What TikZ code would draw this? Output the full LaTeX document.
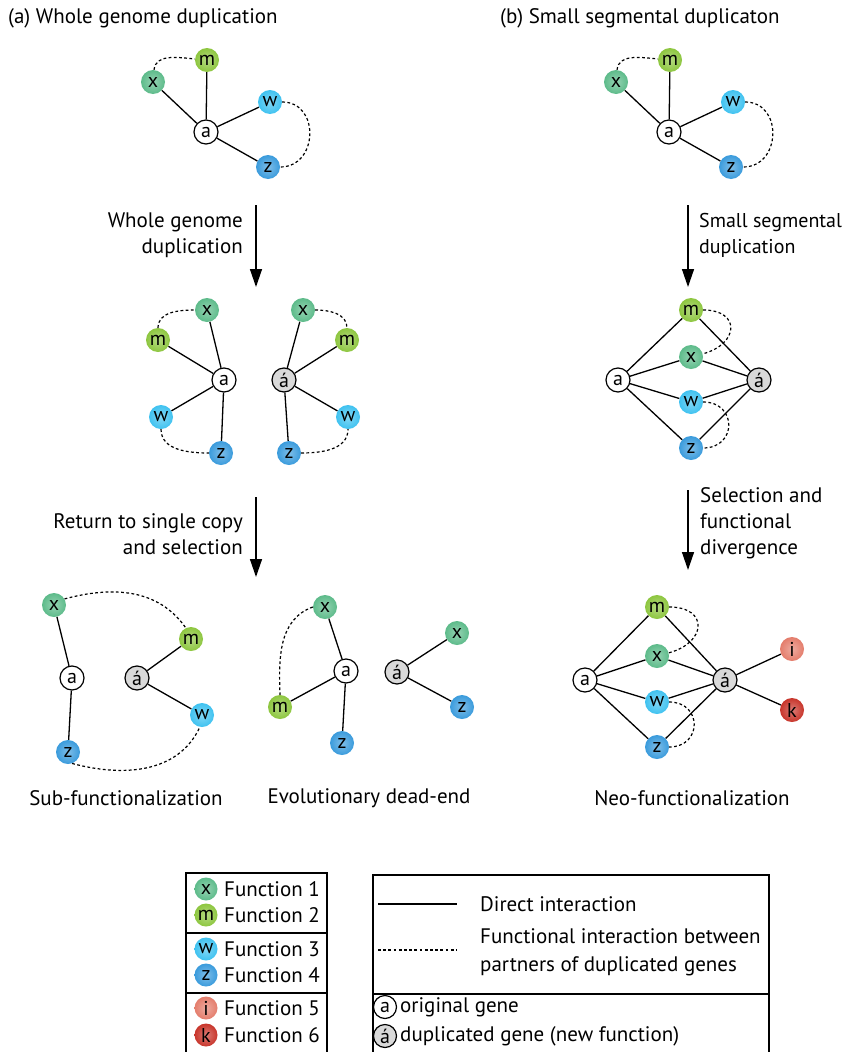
\documentclass[tikz,border=0pt]{standalone}
\usepackage{fontspec}
\setmainfont{PT Sans}
\usetikzlibrary{arrows.meta}
\definecolor{cx}{RGB}{93,187,138}
\definecolor{cm}{RGB}{141,198,63}
\definecolor{cw}{RGB}{63,194,240}
\definecolor{cz}{RGB}{58,155,220}
\definecolor{ci}{RGB}{228,125,108}
\definecolor{ck}{RGB}{200,53,43}
\tikzset{
  gene/.style={circle, minimum size=24pt, inner sep=0pt, font=\fontsize{20}{20}\selectfont},
  orig/.style={gene, draw, line width=1.2pt, fill=white},
  dup/.style={gene, draw, line width=1.2pt, fill=gray!30},
  fn/.style={gene, shading=radial, inner color=#1!65!white, outer color=#1},
  fx/.style={fn=cx}, fm/.style={fn=cm}, fw/.style={fn=cw},
  fz/.style={fn=cz}, fi/.style={fn=ci}, fk/.style={fn=ck},
  link/.style={line width=1.3pt},
  func/.style={line width=1.2pt, dash pattern=on 2.8pt off 2.4pt},
  lbl/.style={inner sep=0pt, font=\fontsize{21}{26}\selectfont},
}
\begin{document}
\begin{tikzpicture}[x=1pt, y=1pt, >={Triangle[length=18pt,width=12pt]}]
    \clip (0,0) rectangle (848,-1052);
    \useasboundingbox (0,0) rectangle (848,-1052);
    % titles
    \node[lbl, anchor=west] (ta) at (8,-18) {(a) Whole genome duplication};
    \node[lbl, anchor=west] (tb) at (500,-18) {(b) Small segmental duplicaton};
    % (a) original network
    \node[orig] (a1) at (206,-132) {a};
    \node[fx] (x1) at (153,-82) {x};
    \node[fm] (m1) at (207,-60) {m};
    \node[fw] (w1) at (270,-102) {w};
    \node[fz] (z1) at (268,-167) {z};
    \draw[link] (a1) -- (x1) (a1) -- (m1) (a1) -- (w1) (a1) -- (z1);
    \draw[func] (x1) to[out=85,in=175] (m1);
    \draw[func] (w1) to[out=0,in=0,looseness=1.5] (z1);
    % (b) original network
    \node[orig] (a2) at (669,-132) {a};
    \node[fx] (x2) at (616,-82) {x};
    \node[fm] (m2) at (670,-60) {m};
    \node[fw] (w2) at (733,-102) {w};
    \node[fz] (z2) at (731,-167) {z};
    \draw[link] (a2) -- (x2) (a2) -- (m2) (a2) -- (w2) (a2) -- (z2);
    \draw[func] (x2) to[out=85,in=175] (m2);
    \draw[func] (w2) to[out=0,in=0,looseness=1.5] (z2);
    % first arrows
    \coordinate (s1) at (256,-205);
    \coordinate (e1) at (256,-287);
    \draw[line width=1.4pt, ->] (s1) -- (e1);
    \node[lbl, anchor=east, align=right] (l1) at (243,-235) {Whole genome\\duplication};
    \coordinate (s2) at (688,-205);
    \coordinate (e2) at (688,-287);
    \draw[line width=1.4pt, ->] (s2) -- (e2);
    \node[lbl, anchor=west, align=left, font=\fontsize{20}{26}\selectfont] (l2) at (699,-235) {Small segmental\\duplication};
    % whole genome duplicated copies
    \node[orig] (a3) at (224,-380) {a};
    \node[fx] (x3) at (207,-310) {x};
    \node[fm] (m3) at (158,-340) {m};
    \node[fw] (w3) at (161,-417) {w};
    \node[fz] (z3) at (221,-453) {z};
    \draw[link] (a3) -- (x3) (a3) -- (m3) (a3) -- (w3) (a3) -- (z3);
    \draw[func] (m3) to[out=90,in=180] (x3);
    \draw[func] (w3) to[out=-90,in=180] (z3);
    \node[dup] (d3) at (284,-380) {á};
    \node[fx] (x4) at (303,-310) {x};
    \node[fm] (m4) at (347,-340) {m};
    \node[fw] (w4) at (348,-417) {w};
    \node[fz] (z4) at (289,-453) {z};
    \draw[link] (d3) -- (x4) (d3) -- (m4) (d3) -- (w4) (d3) -- (z4);
    \draw[func] (x4) to[out=0,in=90] (m4);
    \draw[func] (z4) to[out=0,in=-90] (w4);
    % segmental duplication
    \node[orig] (a5) at (618,-380) {a};
    \node[dup] (d5) at (759,-380) {á};
    \node[fm] (m5) at (691,-310) {m};
    \node[fx] (x5) at (691,-357) {x};
    \node[fw] (w5) at (691,-402) {w};
    \node[fz] (z5) at (691,-448) {z};
    \foreach \g in {m5,x5,w5,z5} {
      \draw[link] (a5) -- (\g);
      \draw[link] (d5) -- (\g);
    }
    \draw[func] (m5) to[out=0,in=15,looseness=2.2] (x5);
    \draw[func] (w5) to[out=0,in=0,looseness=1.9] (z5);
    % second arrows
    \coordinate (s3) at (256,-497);
    \coordinate (e3) at (256,-577);
    \draw[line width=1.4pt, ->] (s3) -- (e3);
    \node[lbl, anchor=east, align=right] (l3) at (243,-534) {Return to single copy\\and selection};
    \coordinate (s4) at (688,-490);
    \coordinate (e4) at (688,-570);
    \draw[line width=1.4pt, ->] (s4) -- (e4);
    \node[lbl, anchor=west, align=left] (l4) at (700,-523) {Selection and\\functional\\divergence};
    % sub-functionalization
    \node[orig] (a6) at (72,-678) {a};
    \node[fx] (x6) at (54,-605) {x};
    \node[fz] (z6) at (68,-752) {z};
    \node[dup] (d6) at (137,-678) {á};
    \node[fm] (m6) at (191,-639) {m};
    \node[fw] (w6) at (202,-715) {w};
    \draw[link] (a6) -- (x6) (a6) -- (z6) (d6) -- (m6) (d6) -- (w6);
    \draw[func] (x6.30) to[out=15,in=125] (m6.115);
    \draw[func] (z6.-70) to[out=-15,in=-115] (w6.-100);
    % dead-end
    \node[orig] (a7) at (346,-671) {a};
    \node[fx] (x7) at (325,-607) {x};
    \node[fm] (m7) at (280,-707) {m};
    \node[fz] (z7) at (342,-743) {z};
    \draw[link] (a7) -- (x7) (a7) -- (m7) (a7) -- (z7);
    \draw[func] (x7.west) to[out=200,in=92] (m7.north);
    \node[dup] (d7) at (397,-672) {á};
    \node[fx] (x8) at (457,-633) {x};
    \node[fz] (z8) at (462,-707) {z};
    \draw[link] (d7) -- (x8) (d7) -- (z8);
    % neo-functionalization
    \node[orig] (a9) at (585,-680) {a};
    \node[dup] (d9) at (725,-680) {á};
    \node[fm] (m9) at (657,-607) {m};
    \node[fx] (x9) at (657,-656) {x};
    \node[fw] (w9) at (657,-702) {w};
    \node[fz] (z9) at (657,-747) {z};
    \node[fi] (i9) at (792,-649) {i};
    \node[fk] (k9) at (792,-710) {k};
    \foreach \g in {m9,x9,w9,z9} {
      \draw[link] (a9) -- (\g);
      \draw[link] (d9) -- (\g);
    }
    \draw[link] (d9) -- (i9) (d9) -- (k9);
    \draw[func] (m9) to[out=0,in=15,looseness=2.2] (x9);
    \draw[func] (w9) to[out=0,in=0,looseness=1.9] (z9);
    % outcome labels
    \node[lbl] (o1) at (126,-798) {Sub-functionalization};
    \node[lbl] (o2) at (369,-798) {Evolutionary dead-end};
    \node[lbl] (o3) at (692,-798) {Neo-functionalization};
    % legend: functions
    \draw[line width=1.3pt] (186,-1070) |- (327,-873) -- (327,-1070);
    \draw[line width=1.3pt] (186,-933) -- (327,-933) (186,-993) -- (327,-993);
    \foreach \f/\c/\t/\y in {x/fx/1/889, m/fm/2/915, w/fw/3/949, z/fz/4/975, i/fi/5/1008, k/fk/6/1035} {
      \node[\c, minimum size=23pt] (key\t) at (206,-\y) {\f};
      \node[lbl, anchor=west] (keytext\t) at (224,-\y) {Function \t};
    }
    % legend: lines and genes
    \draw[line width=1.3pt] (373,-1070) |- (769,-875) -- (769,-1070);
    \draw[line width=1.3pt] (373,-994) -- (769,-994);
    \coordinate (ds) at (378,-904);
    \coordinate (de) at (457,-904);
    \draw[link] (ds) -- (de);
    \node[lbl, anchor=west] (dtext) at (480,-904) {Direct interaction};
    \coordinate (fs) at (378,-950);
    \coordinate (fe) at (457,-950);
    \draw[func] (fs) -- (fe);
    \node[lbl, anchor=west, align=left, font=\fontsize{21}{28}\selectfont] (ftext) at (480,-952) {Functional interaction between\\partners of duplicated genes};
    \node[orig, minimum size=23pt] (ka) at (385,-1007) {a};
    \node[lbl, anchor=west] (katext) at (400,-1007) {original gene};
    \node[dup, minimum size=23pt] (kd) at (385,-1036) {á};
    \node[lbl, anchor=west] (kdtext) at (400,-1036) {duplicated gene (new function)};
  \end{tikzpicture}
\end{document}
